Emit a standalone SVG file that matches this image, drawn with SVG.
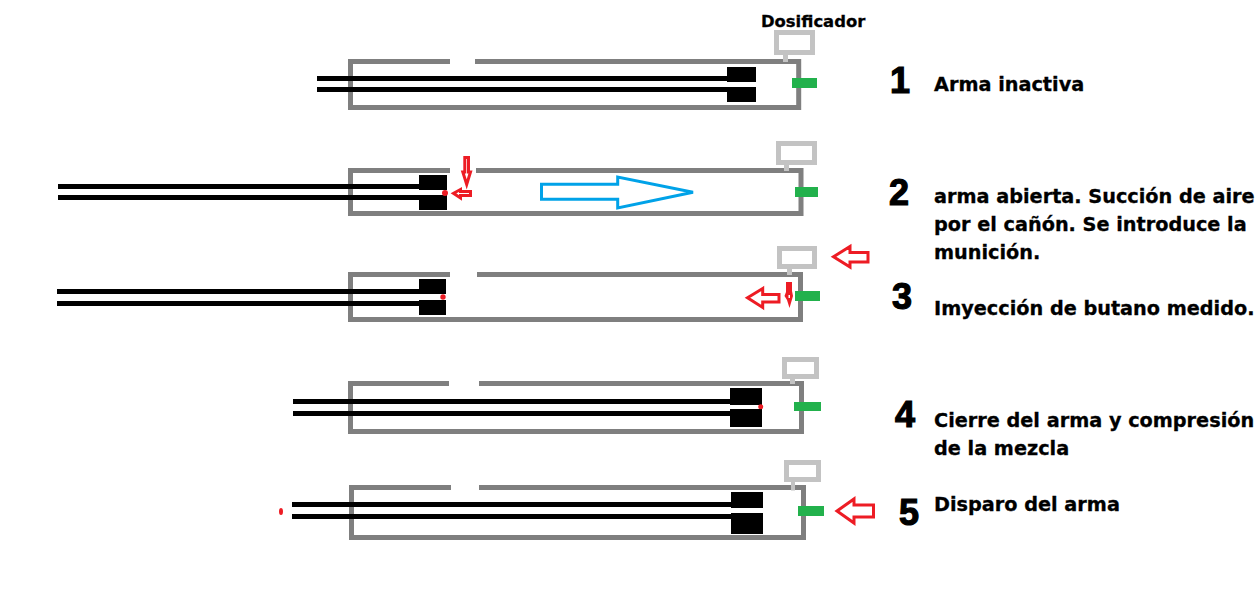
<svg xmlns="http://www.w3.org/2000/svg" width="1257" height="611" viewBox="0 0 1257 611">
<style>
.t{font-family:"DejaVu Sans",sans-serif;font-weight:700;font-size:19.25px;fill:#000;stroke:#000;stroke-width:.3}
.n{font-family:"Liberation Sans",sans-serif;font-weight:700;font-size:36px;fill:#000;stroke:#000;stroke-width:1.2}
.b{fill:none;stroke:#7f7f7f;stroke-width:5}
.d{fill:#fff;stroke:#c3c3c3;stroke-width:5}
.s{fill:#c3c3c3}
.g{fill:#22b14c}
.k{fill:#000}
.a{fill:none;stroke:#ed1c24;stroke-width:3}
.r{fill:#ed1c24}
</style>
<rect width="1257" height="611" fill="#fff"/>
<g id="stage1">
<path class="b" d="M450 61.500H350.500V107.500H798.700V61.500H475"/>
<rect class="k" x="317" y="76" width="410" height="5"/><rect class="k" x="317" y="87" width="410" height="5"/>
<rect class="k" x="727" y="67" width="29" height="15"/><rect class="k" x="727" y="87" width="29" height="15"/>
<rect class="d" x="776.500" y="32.500" width="36" height="20"/><rect class="s" x="783" y="55" width="5" height="7"/>
<rect class="g" x="792" y="78" width="25" height="10"/>
</g>
<g id="stage2">
<path class="b" d="M450 170.500H350.500V213.500H801V170.500H476"/>
<rect class="k" x="58" y="184" width="361" height="5"/><rect class="k" x="58" y="195" width="361" height="5"/>
<rect class="k" x="419" y="175" width="28" height="15"/><rect class="k" x="419" y="195" width="28" height="15"/>
<rect class="d" x="778.500" y="143.500" width="36" height="19"/><rect class="s" x="784" y="165" width="5" height="6"/>
<rect class="g" x="795" y="187" width="23" height="10"/>
<circle class="r" cx="445" cy="193" r="3"/>
<path class="a" d="M464.800 157.500H468.500V172H470.500L466.700 184.500L462.800 172H464.800Z"/>
<path class="a" d="M470.500 191.500V195.500H460.500V198L453.500 193.300L460.500 189.500V191.500Z"/>
<path d="M541.500 184.300H617.700V177L693 192.300L617.700 208V199.300H541.500Z" fill="none" stroke="#00a2e8" stroke-width="3"/>
</g>
<g id="stage3">
<path class="b" d="M450 274.500H350.500V319.500H800.500V274.500H477"/>
<rect class="k" x="57" y="289" width="362" height="5"/><rect class="k" x="57" y="301" width="362" height="5"/>
<rect class="k" x="419" y="279" width="27" height="15"/><rect class="k" x="419" y="300" width="27" height="15"/>
<rect class="d" x="779.500" y="248.500" width="35" height="18"/><rect class="s" x="787" y="269" width="5" height="6"/>
<rect class="g" x="795" y="291" width="25" height="10"/>
<circle class="r" cx="443" cy="297" r="2.700"/>
<path class="a" d="M833.500 256.700L850 246.500V252.500H868V262H850V267Z"/>
<path class="a" d="M747.500 297.700L762.700 288.500V294.500H779V302H762.700V307.500Z"/>
<path class="r" d="M786 282H792V291L793 296L789.500 308L787 300L784.500 296L786 292Z"/>
<rect x="788.500" y="295" width="1.500" height="3" fill="#fff"/>
</g>
<g id="stage4">
<path class="b" d="M449 383.500H350.500V431.500H801.500V383.500H479"/>
<rect class="k" x="293" y="399" width="437" height="5"/><rect class="k" x="293" y="411" width="437" height="5"/>
<rect class="k" x="730" y="388" width="32" height="17"/><rect class="k" x="730" y="409" width="32" height="18"/>
<rect class="d" x="784.500" y="359.500" width="32" height="17"/><rect class="s" x="790" y="379" width="5" height="5"/>
<rect class="g" x="794" y="402" width="27" height="9"/>
<circle class="r" cx="760.700" cy="406.700" r="2.500"/>
</g>
<g id="stage5">
<path class="b" d="M451 487.500H351.500V537.500H803.500V487.500H479"/>
<rect class="k" x="292" y="502" width="439" height="5"/><rect class="k" x="292" y="514" width="439" height="5"/>
<rect class="k" x="731" y="492" width="32" height="16"/><rect class="k" x="731" y="513" width="32" height="21"/>
<rect class="d" x="786.500" y="462.500" width="32" height="17"/><rect class="s" x="791" y="482" width="4" height="8.500"/>
<rect class="g" x="798" y="506" width="26" height="10"/>
<ellipse class="r" cx="281" cy="511.500" rx="2" ry="3.500"/>
<path class="a" d="M837 511L854 499V505H873.500V517H854V523Z"/>
</g>
<g id="labels">
<text class="t" x="761" y="27" style="font-size:16.400px">Dosificador</text>
<text class="n" x="890" y="93">1</text>
<text class="n" x="889" y="205">2</text>
<text class="n" x="892" y="309">3</text>
<text class="n" x="895" y="427">4</text>
<text class="n" x="899" y="525">5</text>
<text class="t" x="934" y="91">Arma inactiva</text>
<text class="t" x="934" y="203">arma abierta. Succión de aire</text>
<text class="t" x="934" y="231">por el cañón. Se introduce la</text>
<text class="t" x="934" y="259">munición.</text>
<text class="t" x="934" y="315">Imyección de butano medido.</text>
<text class="t" x="934" y="427">Cierre del arma y compresión</text>
<text class="t" x="934" y="455">de la mezcla</text>
<text class="t" x="934" y="511">Disparo del arma</text>
</g>
</svg>
